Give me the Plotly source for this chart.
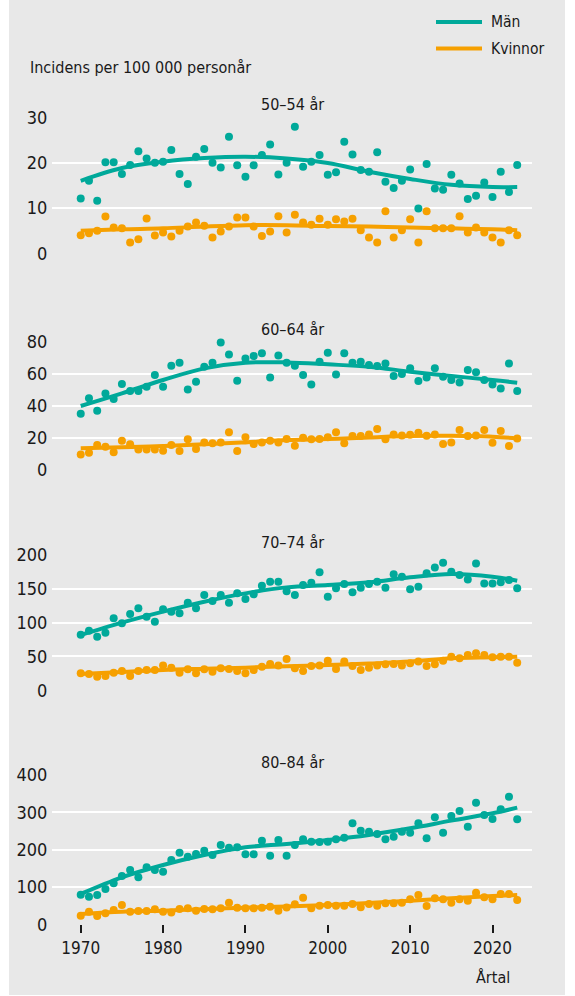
import plotly.graph_objects as go

years = list(range(1970, 2024))

# 50–54 år
men_50 = [12.1, 16.0, 11.6, 20.1, 20.1, 17.5, 19.5, 22.5, 20.9, 20.0,
          20.2, 22.8, 17.5, 15.3, 21.3, 23.0, 20.0, 18.9, 25.7, 19.4,
          16.9, 19.4, 21.7, 24.0, 17.4, 20.0, 27.9, 19.1, 20.2, 21.7,
          17.3, 17.9, 24.6, 21.8, 18.4, 18.0, 22.3, 15.8, 14.4, 16.0,
          18.5, 9.9, 19.7, 14.3, 14.0, 17.3, 15.4, 12.0, 12.7, 15.6,
          12.4, 18.0, 13.5, 19.5]
women_50 = [4.0, 4.4, 5.0, 8.1, 5.7, 5.5, 2.4, 3.1, 7.7, 3.9,
            4.6, 3.7, 5.0, 5.9, 6.8, 6.1, 3.5, 4.8, 5.9, 7.9,
            7.9, 5.9, 3.8, 4.8, 8.2, 4.6, 8.5, 6.8, 6.3, 7.6,
            6.3, 7.5, 7.0, 7.6, 5.1, 3.5, 2.4, 9.3, 3.5, 5.1,
            7.5, 2.4, 9.3, 5.5, 5.5, 5.5, 8.2, 4.6, 5.7, 4.6,
            3.5, 2.4, 5.1, 4.0]
# 60–64 år
men_60 = [35.1, 44.7, 37.0, 47.8, 44.3, 53.7, 49.3, 49.3, 52.0, 59.3,
          52.0, 65.1, 67.0, 50.3, 55.1, 64.5, 67.0, 79.7, 72.2, 55.7,
          69.7, 71.2, 72.9, 57.8, 71.6, 67.0, 65.1, 59.3, 53.4, 67.6,
          73.3, 59.7, 72.9, 67.0, 67.6, 65.6, 64.9, 66.6, 58.7, 59.9,
          63.5, 55.5, 57.8, 63.5, 58.2, 56.2, 54.7, 62.4, 61.0, 56.2,
          53.4, 50.9, 66.6, 49.3]
women_60 = [9.6, 10.6, 15.4, 14.4, 10.9, 18.2, 15.9, 12.7, 12.7, 12.7,
            11.9, 15.4, 11.7, 19.0, 12.9, 17.1, 16.5, 17.1, 23.4, 11.7,
            20.3, 16.1, 17.1, 18.2, 17.1, 19.2, 15.0, 20.0, 19.0, 19.2,
            20.3, 23.4, 16.5, 21.1, 21.1, 22.1, 25.5, 19.0, 22.1, 21.5,
            21.9, 23.2, 21.3, 22.0, 16.1, 17.1, 24.8, 21.1, 21.5, 24.8,
            16.9, 24.2, 14.8, 19.6]
# 70–74 år
men_70 = [82.0, 88.0, 79.1, 85.0, 106.1, 98.8, 112.5, 120.9, 108.6, 101.2,
          119.4, 116.0, 113.5, 129.2, 120.9, 140.5, 131.7, 140.5, 129.2, 143.0,
          134.6, 141.5, 154.3, 160.2, 160.2, 146.0, 140.5, 155.3, 158.7, 174.0,
          138.1, 150.4, 156.8, 144.5, 151.4, 156.8, 160.2, 151.4, 171.0, 167.6,
          148.9, 152.8, 172.5, 181.3, 188.2, 174.9, 170.0, 163.6, 187.2, 157.7,
          157.7, 159.2, 162.7, 150.4]
women_70 = [25.0, 24.1, 20.1, 21.1, 26.0, 28.5, 21.1, 28.5, 30.0, 30.0,
            36.4, 33.4, 26.0, 31.0, 25.1, 31.0, 27.5, 32.4, 31.4, 28.5,
            25.1, 30.0, 34.9, 38.8, 36.4, 46.2, 32.4, 28.5, 35.9, 36.4,
            43.7, 31.4, 42.3, 35.9, 30.0, 33.4, 36.4, 38.3, 38.8, 36.4,
            39.8, 42.3, 35.9, 38.3, 43.7, 49.6, 47.2, 52.1, 54.5, 52.1,
            48.6, 49.6, 49.6, 40.8]
# 80–84 år
men_80 = [79.5, 74.1, 78.6, 94.6, 109.8, 129.5, 145.5, 125.9, 152.7, 145.5,
          141.1, 172.3, 192.0, 181.3, 188.4, 197.3, 185.7, 212.5, 205.4, 206.3,
          187.5, 187.5, 224.1, 183.9, 225.9, 183.9, 212.5, 227.7, 221.4, 220.5,
          221.4, 227.7, 232.0, 270.5, 250.9, 248.2, 242.0, 227.7, 234.8, 248.2,
          245.5, 270.5, 230.4, 286.6, 245.5, 290.2, 303.6, 261.6, 325.9, 292.9,
          282.1, 308.0, 342.0, 281.3]
women_80 = [23.2, 33.9, 22.3, 29.5, 38.4, 51.8, 33.9, 35.7, 35.7, 40.2,
            33.9, 31.3, 41.1, 42.9, 36.6, 41.1, 40.2, 42.9, 58.0, 44.6,
            42.9, 42.9, 44.6, 47.3, 36.6, 45.0, 53.6, 71.4, 42.9, 50.0,
            51.8, 50.0, 50.0, 54.5, 45.5, 54.5, 50.0, 56.3, 56.3, 58.0,
            67.0, 78.6, 49.1, 69.6, 67.0, 58.0, 67.0, 63.4, 84.8, 72.3,
            67.0, 81.3, 81.3, 65.2]

# Smoothed trend lines
trend_years = [1970, 1975, 1980, 1985, 1990, 1995, 2000, 2005, 2010, 2015, 2020, 2023]
trend_men_50 = [16.0, 18.8, 20.2, 21.0, 21.3, 20.9, 19.9, 18.0, 16.4, 15.1, 14.6, 14.6]
trend_women_50 = [5.0, 5.3, 5.5, 5.9, 6.2, 6.2, 6.0, 5.9, 5.7, 5.5, 5.3, 5.1]
trend_men_60 = [39.9, 47.8, 56.2, 63.5, 67.0, 67.2, 66.0, 64.5, 61.4, 58.7, 56.2, 54.5]
trend_women_60 = [13.4, 14.0, 14.8, 16.0, 17.1, 18.6, 19.2, 20.2, 21.1, 21.2, 20.7, 19.6]
trend_men_70 = [81.6, 99.8, 116.0, 130.7, 143.0, 151.8, 155.3, 159.2, 166.6, 171.5, 167.6, 161.7]
trend_women_70 = [24.1, 27.0, 30.0, 31.8, 33.4, 35.5, 37.3, 39.5, 42.3, 47.2, 48.6, 49.6]
trend_men_80 = [81.3, 125.9, 158.9, 185.7, 206.3, 215.2, 225.9, 239.3, 257.1, 277.7, 297.3, 312.5]
trend_women_80 = [27.7, 33.9, 36.6, 40.5, 44.6, 48.0, 51.8, 57.0, 63.4, 69.5, 75.9, 78.6]

panel_titles = ["50–54 år", "60–64 år", "70–74 år", "80–84 år"]
y_ticks = [[0, 10, 20, 30], [0, 20, 40, 60, 80], [0, 50, 100, 150, 200], [0, 100, 200, 300, 400]]
x_ticks = [1970, 1980, 1990, 2000, 2010, 2020]

series_men = [men_50, men_60, men_70, men_80]
series_women = [women_50, women_60, women_70, women_80]
trends_men = [trend_men_50, trend_men_60, trend_men_70, trend_men_80]
trends_women = [trend_women_50, trend_women_60, trend_women_70, trend_women_80]

# ---- styling / layout ----
W, H = 575, 996
TEAL = "#00a99a"
ORANGE = "#f6a000"
BG = "#e8e8e8"
TXT = "#1a1a1a"
FONT = "Liberation Sans Narrow, DejaVu Sans Condensed, Roboto Condensed, Arial Narrow, Roboto, sans-serif"

def fx(p):
    return p / W

def fy(p):
    return 1 - p / H

x_dom = [fx(52.4), fx(531.7)]
x_range = [1966.56, 2024.76]
# (top pixel, bottom pixel) of each panel's value range
panel_px = [(117.3, 253.3), (342.0, 469.7), (554.7, 690.3), (775.0, 924.3)]

fig = go.Figure()
layout = dict(
    width=W, height=H,
    margin=dict(l=0, r=0, t=0, b=0, pad=0, autoexpand=False),
    paper_bgcolor="white",
    plot_bgcolor="rgba(0,0,0,0)",
    showlegend=False,
    font=dict(family=FONT, size=16, color=TXT),
)
annotations = []
shapes = [dict(type="rect", xref="paper", yref="paper", x0=fx(9), x1=fx(565), y0=fy(995), y1=1,
               fillcolor=BG, line=dict(width=0), layer="below")]

for i in range(4):
    n = "" if i == 0 else str(i + 1)
    xa, ya = "x" + n, "y" + n
    top, bot = panel_px[i]
    last = i == 3
    layout["xaxis" + n] = dict(
        domain=x_dom, range=x_range, anchor=ya, automargin=False,
        showgrid=False, zeroline=False, showline=False,
        tickvals=x_ticks if last else [],
        showticklabels=last,
        ticks="outside" if last else "",
        ticklen=8, tickwidth=1.5, tickcolor=TXT,
        tickfont=dict(size=17, color=TXT),
    )
    layout["yaxis" + n] = dict(
        domain=[fy(bot), fy(top)], range=[0, y_ticks[i][-1]], anchor=xa, automargin=False,
        tickvals=y_ticks[i], showgrid=True, gridcolor="white", gridwidth=2,
        zeroline=False, showline=False, ticks="", ticklabelstandoff=4,
        tickfont=dict(size=18, color=TXT),
    )
    fig.add_trace(go.Scatter(x=years, y=series_men[i], mode="markers", xaxis=xa, yaxis=ya,
                             marker=dict(color=TEAL, size=8), cliponaxis=False, name="Män"))
    fig.add_trace(go.Scatter(x=years, y=series_women[i], mode="markers", xaxis=xa, yaxis=ya,
                             marker=dict(color=ORANGE, size=8), cliponaxis=False, name="Kvinnor"))
    fig.add_trace(go.Scatter(x=trend_years, y=trends_men[i], mode="lines", xaxis=xa, yaxis=ya,
                             line=dict(color=TEAL, width=4, shape="spline", smoothing=1.0),
                             cliponaxis=False, name="Män"))
    fig.add_trace(go.Scatter(x=trend_years, y=trends_women[i], mode="lines", xaxis=xa, yaxis=ya,
                             line=dict(color=ORANGE, width=4, shape="spline", smoothing=1.0),
                             cliponaxis=False, name="Kvinnor"))
    annotations.append(dict(text=panel_titles[i], xref="paper", yref="paper",
                            x=(x_dom[0] + x_dom[1]) / 2, y=fy(top), xanchor="center", yanchor="bottom",
                            yshift=1, showarrow=False, font=dict(size=16, color=TXT)))

# y-axis caption
annotations.append(dict(text="Incidens per 100 000 personår", xref="paper", yref="paper",
                        x=fx(28), y=fy(68), xanchor="left", yanchor="middle", showarrow=False,
                        font=dict(size=16, color=TXT)))
# x-axis caption
annotations.append(dict(text="Årtal", xref="x4", yref="paper", x=2020, y=fy(977),
                        xanchor="center", yanchor="middle", showarrow=False,
                        font=dict(size=16, color=TXT)))
# legend
for label, color, ypx in [("Män", TEAL, 22), ("Kvinnor", ORANGE, 48.5)]:
    shapes.append(dict(type="line", xref="paper", yref="paper", x0=fx(436), x1=fx(482),
                       y0=fy(ypx), y1=fy(ypx), line=dict(color=color, width=4)))
    annotations.append(dict(text=label, xref="paper", yref="paper", x=fx(489), y=fy(ypx),
                            xanchor="left", yanchor="middle", showarrow=False,
                            font=dict(size=15.5, color=TXT)))

layout["annotations"] = annotations
layout["shapes"] = shapes
fig.update_layout(**layout)

POST = (
    "var gd=document.getElementById('{plot_id}');"
    "document.documentElement.style.margin='0';"
    "document.documentElement.style.overflow='hidden';"
    "document.body.style.margin='0';"
    "document.body.style.overflow='hidden';"
    "gd.style.position='fixed';gd.style.left='0px';gd.style.top='0px';"
)
fig.write_html("out.html", config=dict(displayModeBar=False), post_script=POST)
